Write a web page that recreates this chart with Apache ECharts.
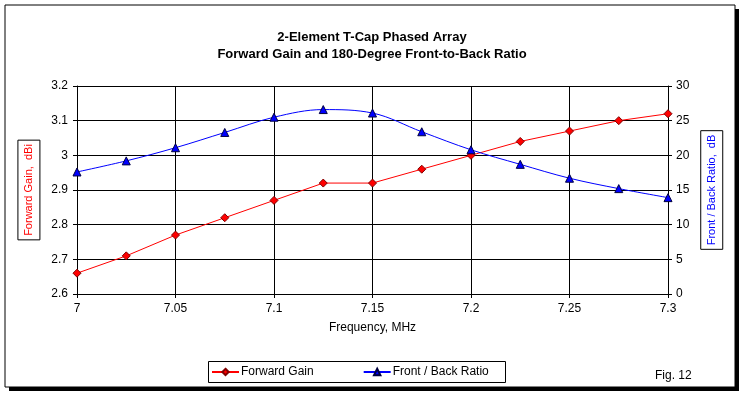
<!DOCTYPE html>
<html>
<head>
<meta charset="utf-8">
<script src="https://cdn.jsdelivr.net/npm/echarts@6/dist/echarts.min.js"></script>
<style>
  html, body { margin: 0; padding: 0; background: #fff; }
  #main { width: 744px; height: 396px; }
</style>
</head>
<body>
<div id="main"></div>
<script>
// frequency points, MHz
var freq = [7, 7.025, 7.05, 7.075, 7.1, 7.125, 7.15, 7.175, 7.2, 7.225, 7.25, 7.275, 7.3];
// forward gain, dBi (left axis)
var gain = [2.66, 2.71, 2.77, 2.82, 2.87, 2.92, 2.92, 2.96, 3.00, 3.04, 3.07, 3.10, 3.12];
// 180-degree front-to-back ratio, dB (right axis)
var fbRatio = [17.6, 19.2, 21.1, 23.3, 25.5, 26.6, 26.1, 23.4, 20.8, 18.7, 16.7, 15.2, 13.9];

function pairs(xs, ys) {
    var out = [];
    for (var i = 0; i < xs.length; i++) out.push([xs[i], ys[i]]);
    return out;
}

var font = 'Arial, "Liberation Sans", sans-serif';
var myChart = echarts.init(document.getElementById('main'));

var option = {
    backgroundColor: '#fff',
    animation: false,
    textStyle: { fontFamily: font },
    title: {
        text: '2-Element T-Cap Phased Array\nForward Gain and 180-Degree Front-to-Back Ratio',
        left: 'center',
        top: 24,
        textStyle: {
            fontFamily: '"Liberation Sans Narrow", Arial, sans-serif',
            fontWeight: 'bold',
            fontSize: 13,
            lineHeight: 17,
            color: '#000'
        }
    },
    graphic: [
        { type: 'rect', z: -20, shape: { x: 9, y: 9, width: 730, height: 382 }, style: { fill: '#000' } },
        { type: 'rect', z: -19, shape: { x: 5, y: 5, width: 730, height: 382 }, style: { fill: '#fff', stroke: '#000', lineWidth: 1 } },
        { type: 'rect', z: -18, shape: { x: 208.5, y: 361.5, width: 297, height: 21 }, style: { fill: '#fff', stroke: '#000', lineWidth: 1 } },
        { type: 'text', left: 655, top: 370, style: { text: 'Fig. 12', font: '12px ' + font, fill: '#000' } }
    ],
    legend: {
        left: 211,
        top: 366,
        itemGap: 49,
        itemWidth: 27,
        itemHeight: 8,
        padding: 0,
        textStyle: { fontSize: 12, color: '#000', padding: [0, 0, 0, -3] },
        data: ['Forward Gain', 'Front / Back Ratio']
    },
    grid: { left: 77, right: 76, top: 86, bottom: 102 },
    xAxis: {
        type: 'value',
        min: 7,
        max: 7.3,
        interval: 0.05,
        name: 'Frequency, MHz',
        nameLocation: 'middle',
        nameGap: 28,
        nameTextStyle: { fontSize: 12, color: '#000' },
        axisLine: { lineStyle: { color: '#000', width: 1 } },
        axisTick: { show: true, length: 4, lineStyle: { color: '#000' } },
        axisLabel: { fontSize: 12, color: '#000', margin: 9 },
        splitLine: { show: true, lineStyle: { color: '#000', width: 1 } }
    },
    yAxis: [
        {
            type: 'value',
            min: 2.6,
            max: 3.2,
            interval: 0.1,
            name: 'Forward Gain,  dBi',
            nameLocation: 'middle',
            nameRotate: 90,
            nameGap: 36,
            nameTextStyle: {
                fontSize: 11, color: '#ff0000',
                borderColor: '#000', borderWidth: 1, padding: [6, 4, 5, 4]
            },
            axisLine: { show: true, lineStyle: { color: '#000' } },
            axisTick: { show: true, length: 4, lineStyle: { color: '#000' } },
            axisLabel: { fontSize: 12, color: '#000', margin: 9 },
            splitLine: { show: true, lineStyle: { color: '#000', width: 1 } }
        },
        {
            type: 'value',
            min: 0,
            max: 30,
            interval: 5,
            name: 'Front / Back Ratio,  dB',
            nameLocation: 'middle',
            nameRotate: 90,
            nameGap: 31,
            nameTextStyle: {
                fontSize: 11, color: '#0000ff',
                borderColor: '#000', borderWidth: 1, padding: [6, 4, 5, 4]
            },
            axisLine: { show: true, lineStyle: { color: '#000' } },
            axisTick: { show: true, length: 4, lineStyle: { color: '#000' } },
            axisLabel: { fontSize: 12, color: '#000', margin: 8 },
            splitLine: { show: false }
        }
    ],
    series: [
        {
            name: 'Forward Gain',
            type: 'line',
            yAxisIndex: 0,
            data: pairs(freq, gain),
            symbol: 'diamond',
            symbolSize: 8,
            lineStyle: { color: '#ff0000', width: 1 },
            itemStyle: { color: '#ff0000', borderColor: '#800000', borderWidth: 1 },
            z: 3
        },
        {
            name: 'Front / Back Ratio',
            type: 'line',
            yAxisIndex: 1,
            data: pairs(freq, fbRatio),
            smooth: 0.35,
            symbol: 'triangle',
            symbolSize: 8,
            lineStyle: { color: '#0000ff', width: 1 },
            itemStyle: { color: '#0000ff', borderColor: '#000040', borderWidth: 1 },
            z: 4
        }
    ]
};

myChart.setOption(option, true);
</script>
</body>
</html>
